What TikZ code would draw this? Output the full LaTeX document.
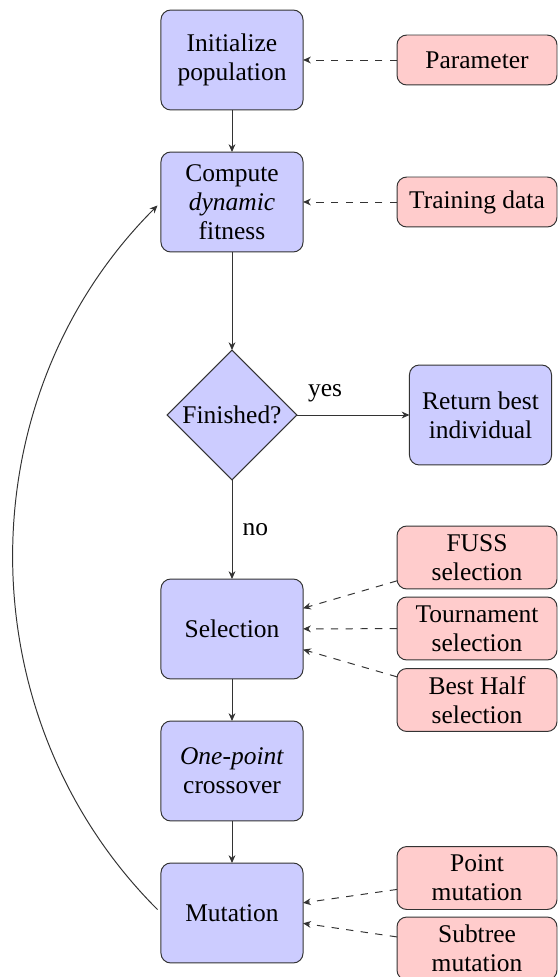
\documentclass[tikz,border=0pt]{standalone}
\usepackage{fontspec}
\setmainfont{Liberation Serif}
\usetikzlibrary{shapes.geometric,arrows.meta}
\begin{document}
\begin{tikzpicture}[x=0.4082pt, y=-0.4082pt,
  every node/.style={font=\fontsize{10.4pt}{11.9pt}\selectfont, inner sep=0pt, outer sep=0pt},
  bluebox/.style={draw=black!80, fill=blue!20, rounded corners=4pt, line width=0.4pt,
    minimum width=58pt, minimum height=40.8pt, align=center},
  pinkbox/.style={draw=black!80, fill=red!20, rounded corners=4pt, line width=0.4pt,
    minimum width=65.3pt, minimum height=20.4pt, align=center},
  pinktall/.style={pinkbox, minimum height=25.7pt},
  decision/.style={diamond, aspect=1, draw=black!80, fill=blue!20, line width=0.4pt,
    minimum width=53pt, minimum height=53pt},
  flow/.style={draw=black!80, line width=0.4pt, -{Stealth[length=3.2pt,width=2.8pt]}},
  dflow/.style={flow, dashed}
]
\useasboundingbox (0,0) rectangle (558,977);

\node[bluebox] (init) at (232,60) {Initialize\\population};
\node[bluebox] (compute) at (232,202) {Compute\\\textit{dynamic}\\fitness};
\node[decision] (finished) at (232,415) {Finished?};
\node[bluebox] (return) at (480.5,415) {Return best\\individual};
\node[bluebox] (selection) at (232,629) {Selection};
\node[bluebox] (crossover) at (232,771) {\textit{One-point}\\crossover};
\node[bluebox] (mutation) at (232,913) {Mutation};

\node[pinkbox] (param) at (477,60) {Parameter};
\node[pinkbox] (train) at (477,202) {Training data};
\node[pinktall] (fuss) at (477,557.5) {FUSS\\selection};
\node[pinktall] (tourn) at (477,628.5) {Tournament\\selection};
\node[pinktall] (besthalf) at (477,700) {Best Half\\selection};
\node[pinktall] (point) at (477,878) {Point\\mutation};
\node[pinktall] (subtree) at (477,948.5) {Subtree\\mutation};

\draw[flow] (init) -- (compute);
\draw[flow] (compute) -- (finished);
\draw[flow] (finished) -- node[pos=0.25, yshift=9pt] (yeslbl) {yes} (return);
\draw[flow] (finished) -- node[pos=0.5, xshift=9.5pt] (nolbl) {no} (selection);
\draw[flow] (selection) -- (crossover);
\draw[flow] (crossover) -- (mutation);

\draw[dflow] (param) -- (init);
\draw[dflow] (train) -- (compute);
\draw[dflow] (fuss) -- (selection);
\draw[dflow] (tourn) -- (selection);
\draw[dflow] (besthalf) -- (selection);
\draw[dflow] (point) -- (mutation);
\draw[dflow] (subtree) -- (mutation);

\draw[flow, shorten <=2pt, shorten >=2pt] (mutation.west) to[bend left=45] (compute.west);
\end{tikzpicture}
\end{document}
